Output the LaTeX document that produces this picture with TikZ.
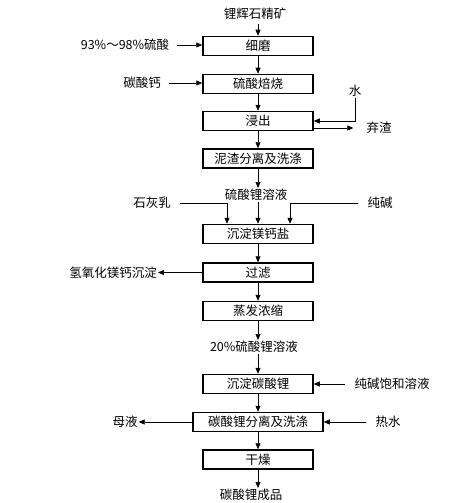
\documentclass[tikz,border=0pt]{standalone}
\usepackage{fontspec}
\setmainfont{Noto Sans CJK SC}
\usetikzlibrary{arrows.meta}
\begin{document}
\begin{tikzpicture}[x=1pt,y=-1pt,
  font=\fontsize{12.5}{14}\selectfont,
  box/.style={draw, line width=1.5pt, minimum width=110pt, minimum height=19pt, inner sep=0pt},
  widebox/.style={box, minimum width=130pt},
  lbl/.style={inner sep=1pt},
  arr/.style={-{Triangle[length=6pt,width=5pt]}, line width=0.7pt},
  ln/.style={line width=0.7pt}]
\useasboundingbox (0,0) rectangle (452,503);
% process boxes
\node[box] (b1) at (258,46) {细磨};
\node[box] (b2) at (258,84) {硫酸焙烧};
\node[box] (b3) at (258,121) {浸出};
\node[box] (b4) at (258,158.5) {泥渣分离及洗涤};
\node[box] (b5) at (258,234) {沉淀镁钙盐};
\node[box] (b6) at (258,272.5) {过滤};
\node[box] (b7) at (258,311) {蒸发浓缩};
\node[box] (b8) at (258,384) {沉淀碳酸锂};
\node[widebox] (b9) at (258,422) {碳酸锂分离及洗涤};
\node[box] (b10) at (258,459.5) {干燥};
% labels
\node[lbl] (t0) at (255,14) {锂辉石精矿};
\node[lbl] (acid) at (125,45) {93\%～98\%硫酸};
\node[lbl] (caco) at (142,83) {碳酸钙};
\node[lbl] (w) at (355,91) {水};
\node[lbl] (waste) at (379,128) {弃渣};
\node[lbl] (s1) at (256,195) {硫酸锂溶液};
\node[lbl] (lime) at (152,203) {石灰乳};
\node[lbl] (soda) at (380,203) {纯碱};
\node[lbl] (mg) at (113,272.5) {氢氧化镁钙沉淀};
\node[lbl] (s2) at (254,347) {20\%硫酸锂溶液};
\node[lbl] (sat) at (392,384) {纯碱饱和溶液};
\node[lbl] (ml) at (125,422) {母液};
\node[lbl] (hw) at (388,422) {热水};
\node[lbl] (prod) at (251,495) {碳酸锂成品};
% connectors
\draw[arr] (t0.south -| b1.north) ++(0,3) -- (b1.north);
\draw[arr, shorten <=7pt] (acid) -- (acid -| b1.west);
\draw[arr] (b1) -- (b2);
\draw[arr, shorten <=7pt] (caco) -- (caco -| b2.west);
\draw[arr] (b2) -- (b3);
\draw[arr] (w) |- (b3);
\draw[arr, shorten >=12pt] (b3.east |- waste) -- (waste);
\draw[arr] (b3) -- (b4);
\draw[arr] (b4.south) -- (b4.south |- s1.north);
\draw[arr] (b5.north |- s1.south) -- (b5.north);
\draw[arr, shorten <=8pt] (lime.east) -| ([xshift=-31pt]b5.north);
\draw[arr, shorten <=8pt] (soda.west) -| ([xshift=32pt]b5.north);
\draw[arr] (b5) -- (b6);
\draw[arr] (b6) -- (b6 -| mg.east);
\draw[arr] (b6) -- (b7);
\draw[arr] (b7.south) -- (b7.south |- s2.north);
\draw[arr] (b8.north |- s2.south) -- (b8.north);
\draw[arr, shorten <=8pt] (sat) -- (sat -| b8.east);
\draw[arr] (b8) -- (b9);
\draw[arr] (b9) -- (b9 -| ml.east);
\draw[arr, shorten <=8pt] (hw) -- (hw -| b9.east);
\draw[arr] (b9) -- (b10);
\draw[arr] (b10.south) -- (b10.south |- prod.north);
\end{tikzpicture}
\end{document}
